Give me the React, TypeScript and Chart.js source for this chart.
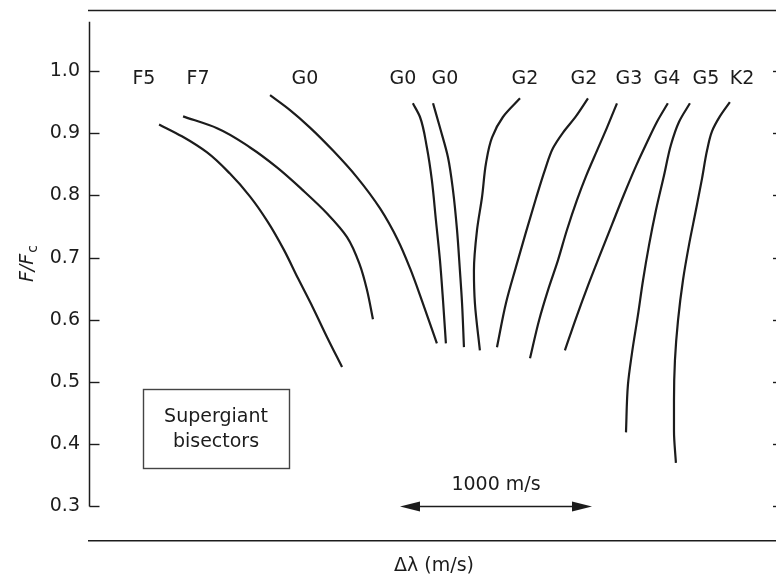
import React, { useEffect, useRef } from 'react';
import { Chart, registerables } from 'chart.js';

Chart.register(...registerables);

// ---- data (x: Δλ in m/s, arbitrary zero; y: F/Fc) ----
const yTicks = [0.3, 0.4, 0.5, 0.6, 0.7, 0.8, 0.9, 1.0];
const xMin = 0;
const xMax = 3594;
const yMin = 0.2444;
const yMax = 1.098;
const yAxisTop = 1.079;
const yAxisBottom = 0.3;

const curveLabels = ['F5', 'F7', 'G0', 'G0', 'G0', 'G2', 'G2', 'G3', 'G4', 'G5', 'K2'];
const labelX = [286, 568, 1125, 1635, 1854, 2271, 2578, 2812, 3010, 3213, 3401];
const labelY = 0.987;

const f5X = [365, 484, 615, 734, 839, 932, 1016, 1088, 1167, 1240, 1318];
const f5Y = [0.914, 0.895, 0.869, 0.835, 0.798, 0.757, 0.712, 0.667, 0.619, 0.572, 0.524];
const f7X = [490, 667, 839, 979, 1115, 1240, 1344, 1411, 1448, 1479];
const f7Y = [0.927, 0.908, 0.877, 0.845, 0.808, 0.771, 0.733, 0.688, 0.648, 0.601];
const g0aX = [943, 1047, 1151, 1271, 1396, 1516, 1609, 1672, 1734, 1812];
const g0aY = [0.961, 0.937, 0.909, 0.872, 0.829, 0.779, 0.728, 0.683, 0.631, 0.562];
const g0bX = [1687, 1724, 1760, 1786, 1807, 1828, 1844, 1859];
const g0bY = [0.948, 0.926, 0.877, 0.824, 0.76, 0.696, 0.631, 0.562];
const g0cX = [1792, 1828, 1870, 1896, 1917, 1932, 1943, 1953];
const g0cY = [0.948, 0.909, 0.861, 0.808, 0.744, 0.679, 0.627, 0.556];
const g2aX = [2245, 2156, 2099, 2068, 2047, 2021, 2005, 2010, 2036];
const g2aY = [0.956, 0.926, 0.893, 0.852, 0.797, 0.744, 0.679, 0.627, 0.551];
const g2bX = [2599, 2536, 2469, 2417, 2375, 2328, 2276, 2224, 2172, 2125];
const g2bY = [0.956, 0.927, 0.901, 0.876, 0.841, 0.795, 0.741, 0.685, 0.627, 0.556];
const g3X = [2750, 2698, 2646, 2589, 2541, 2489, 2443, 2390, 2344, 2297];
const g3Y = [0.948, 0.909, 0.872, 0.831, 0.792, 0.744, 0.696, 0.647, 0.599, 0.538];
const g4X = [3015, 2958, 2906, 2849, 2786, 2724, 2661, 2599, 2536, 2479];
const g4Y = [0.948, 0.918, 0.885, 0.847, 0.801, 0.753, 0.704, 0.655, 0.602, 0.551];
const g5X = [3130, 3073, 3031, 2995, 2953, 2917, 2886, 2859, 2828, 2807, 2797];
const g5Y = [0.948, 0.918, 0.881, 0.832, 0.776, 0.72, 0.664, 0.607, 0.546, 0.495, 0.419];
const k2X = [3338, 3286, 3245, 3219, 3193, 3161, 3125, 3094, 3068, 3052, 3047, 3047, 3057];
const k2Y = [0.95, 0.927, 0.903, 0.872, 0.827, 0.776, 0.72, 0.664, 0.599, 0.535, 0.47, 0.422, 0.37];

const seriesX = [f5X, f7X, g0aX, g0bX, g0cX, g2aX, g2bX, g3X, g4X, g5X, k2X];
const seriesY = [f5Y, f7Y, g0aY, g0bY, g0cY, g2aY, g2bY, g3Y, g4Y, g5Y, k2Y];

// annotations
const boxLines = ['Supergiant', 'bisectors'];
const boxX = [281, 1042];
const boxY = [0.488, 0.361];
const arrowStart = 1620;
const arrowLength = 1000;
const arrowY = 0.3;
const arrowLabel = '1000 m/s';
const arrowLabelY = 0.334;
const xTitle = 'Δλ (m/s)';

const FONT = "'DejaVu Sans', sans-serif";
const INK = '#1c1c1c';

const decorPlugin = {
  id: 'decor',
  afterDatasetsDraw(chart: any) {
    const { ctx, chartArea, scales } = chart;
    const xs = scales.x;
    const ys = scales.y;
    ctx.save();
    ctx.strokeStyle = INK;
    ctx.fillStyle = INK;
    ctx.lineCap = 'butt';

    // top frame line
    ctx.lineWidth = 1.6;
    ctx.beginPath();
    ctx.moveTo(chartArea.left - 1, chartArea.top + 0.5);
    ctx.lineTo(chartArea.right, chartArea.top + 0.5);
    ctx.stroke();

    // left axis line
    const ax = chartArea.left + 0.5;
    const yTop = ys.getPixelForValue(yAxisTop);
    const yBot = ys.getPixelForValue(yAxisBottom);
    ctx.lineWidth = 1.5;
    ctx.beginPath();
    ctx.moveTo(ax, yTop);
    ctx.lineTo(ax, yBot);
    ctx.stroke();

    // inward ticks (left and right)
    ctx.lineWidth = 1.4;
    yTicks.forEach((v) => {
      const py = Math.round(ys.getPixelForValue(v)) + 0.5;
      ctx.beginPath();
      ctx.moveTo(ax, py);
      ctx.lineTo(ax + 10, py);
      ctx.stroke();
      ctx.beginPath();
      ctx.moveTo(chartArea.right, py);
      ctx.lineTo(chartArea.right - 6, py);
      ctx.stroke();
    });

    // curve labels
    ctx.font = `19px ${FONT}`;
    ctx.textAlign = 'center';
    ctx.textBaseline = 'middle';
    curveLabels.forEach((t, i) => {
      ctx.fillText(t, xs.getPixelForValue(labelX[i]), ys.getPixelForValue(labelY));
    });

    // box
    const bx0 = xs.getPixelForValue(boxX[0]);
    const bx1 = xs.getPixelForValue(boxX[1]);
    const by0 = ys.getPixelForValue(boxY[0]);
    const by1 = ys.getPixelForValue(boxY[1]);
    ctx.strokeStyle = '#444';
    ctx.lineWidth = 1.4;
    ctx.strokeRect(Math.round(bx0) + 0.5, Math.round(by0) + 0.5, Math.round(bx1 - bx0), Math.round(by1 - by0));
    ctx.fillStyle = INK;
    const bcx = (bx0 + bx1) / 2;
    const bcy = (by0 + by1) / 2;
    ctx.font = `19px ${FONT}`;
    ctx.fillText(boxLines[0], bcx, bcy - 12);
    ctx.fillText(boxLines[1], bcx, bcy + 13);

    // arrow
    const a0 = xs.getPixelForValue(arrowStart);
    const a1 = xs.getPixelForValue(arrowStart + arrowLength);
    const ay = ys.getPixelForValue(arrowY);
    ctx.strokeStyle = INK;
    ctx.lineWidth = 1.5;
    ctx.beginPath();
    ctx.moveTo(a0 + 10, ay);
    ctx.lineTo(a1 - 10, ay);
    ctx.stroke();
    ctx.beginPath();
    ctx.moveTo(a0, ay);
    ctx.lineTo(a0 + 20, ay - 5);
    ctx.lineTo(a0 + 20, ay + 5);
    ctx.closePath();
    ctx.fill();
    ctx.beginPath();
    ctx.moveTo(a1, ay);
    ctx.lineTo(a1 - 20, ay - 5);
    ctx.lineTo(a1 - 20, ay + 5);
    ctx.closePath();
    ctx.fill();
    ctx.fillText(arrowLabel, (a0 + a1) / 2, ys.getPixelForValue(arrowLabelY));

    // y title F/Fc
    const yMid = (yTop + yBot) / 2;
    ctx.translate(28, yMid);
    ctx.rotate(-Math.PI / 2);
    ctx.textAlign = 'left';
    ctx.font = `italic 19px ${FONT}`;
    const main = 'F/F';
    const w1 = ctx.measureText(main).width;
    ctx.font = `14px ${FONT}`;
    const w2 = ctx.measureText('c').width;
    const sx = -(w1 + w2) / 2;
    ctx.font = `italic 19px ${FONT}`;
    ctx.fillText(main, sx, 0);
    ctx.font = `14px ${FONT}`;
    ctx.fillText('c', sx + w1 + 1, 5);
    ctx.restore();
  },
};

export default function App() {
  const ref = useRef<HTMLCanvasElement | null>(null);
  useEffect(() => {
    if (!ref.current) return;
    const datasets = seriesX.map((xsArr, i) => ({
      label: curveLabels[i],
      data: xsArr.map((x, j) => ({ x, y: seriesY[i][j] })),
      showLine: true,
      borderColor: INK,
      borderWidth: 2.2,
      pointRadius: 0,
      cubicInterpolationMode: 'monotone' as const,
      fill: false,
    }));
    const chart = new Chart(ref.current, {
      type: 'scatter',
      data: { datasets },
      options: {
        indexAxis: 'y',
        animation: false,
        responsive: false,
        layout: { padding: { top: 10, right: 11, left: 0, bottom: 0 } },
        plugins: { legend: { display: false }, tooltip: { enabled: false } },
        scales: {
          x: {
            type: 'linear',
            position: 'bottom',
            min: xMin,
            max: xMax,
            ticks: { display: false },
            grid: { display: false, drawTicks: false },
            border: { display: true, color: INK, width: 1.6 },
            title: {
              display: true,
              text: xTitle,
              color: INK,
              font: { family: FONT, size: 19 },
              padding: { top: 0, bottom: 0 },
            },
            afterFit: (s: any) => {
              s.height = 36;
              s.paddingLeft = 0;
              s.paddingRight = 0;
            },
          },
          y: {
            type: 'linear',
            position: 'left',
            min: yMin,
            max: yMax,
            afterBuildTicks: (s: any) => {
              s.ticks = yTicks.map((v) => ({ value: v }));
            },
            ticks: {
              callback: (v: any) => Number(v).toFixed(1),
              color: INK,
              font: { family: FONT, size: 19 },
              padding: 9,
            },
            grid: { display: false, drawTicks: false },
            border: { display: false },
            afterFit: (s: any) => {
              s.width = 89;
              s.paddingTop = 0;
              s.paddingBottom = 0;
            },
          },
        },
      },
      plugins: [decorPlugin],
    });
    return () => chart.destroy();
  }, []);
  return (
    <div style={{ position: 'fixed', left: 0, top: 0, width: 776, height: 577, overflow: 'hidden', background: '#fff' }}>
      <canvas ref={ref} width={790} height={577} />
    </div>
  );
}
